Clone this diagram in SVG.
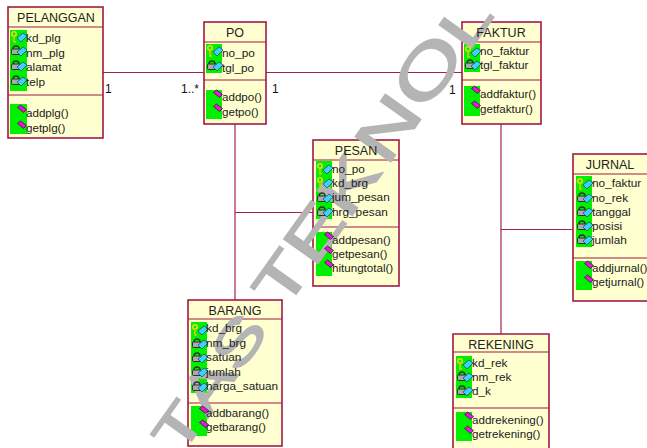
<svg xmlns="http://www.w3.org/2000/svg" width="647" height="448" viewBox="0 0 647 448">
<style>
.box{fill:#ffffcf;stroke:#a31848;stroke-width:1.6}
.div{stroke:#a31848;stroke-width:1.2;fill:none}
.con{stroke:#a32050;stroke-width:1.2;fill:none}
.g{fill:#00f000}
text{font-family:"Liberation Sans",Arial,sans-serif;fill:#222}
.t{font-size:12.5px;text-anchor:middle}
.a{font-size:11.8px}
.m{font-size:11.6px}
.l{font-size:12px;fill:#111}
.w{fill:#b4b4b4;stroke:#b4b4b4;stroke-width:1.6px}
</style>
<defs>
<path id="dia" d="M6 7l6-5 4 3-6 6z" fill="#40d0ff" stroke="#104060" stroke-width=".7"/>
<g id="key"><circle cx="3" cy="3" r="2.2" fill="none" stroke="#e8d820" stroke-width="1.6"/><path d="M3 5v6h2" fill="none" stroke="#d8c810" stroke-width="1.6"/><use href="#dia"/></g>
<g id="lock"><path d="M2 4a3 3 0 0 1 6 0" fill="none" stroke="#333" stroke-width="1.4"/><rect x=".5" y="4" width="9" height="5.5" rx="1" fill="#aaa" stroke="#222" stroke-width=".9"/><use href="#dia"/></g>
<path id="op" d="M5.500 2.500l3-2.500 6 4.500-3 3z" fill="#f010e0" stroke="#302030" stroke-width=".8"/>
</defs>
<g id="connectors">
<path class="con" d="M103 72.500H204M266 72.500H462M235 124V300M235 212.500H313M501 124V334M501 229.500H573"/>
</g>
<g id="pelanggan">
<rect class="box" x="8" y="7" width="95" height="131"/><path class="div" d="M8 27H103M8 95H103"/>
<rect class="g" x="10" y="30" width="17" height="61"/><rect class="g" x="10" y="104" width="17" height="30"/>
</g>
<g id="po">
<rect class="box" x="204" y="22" width="62" height="102"/><path class="div" d="M204 42H266M204 80H266"/>
<rect class="g" x="206" y="44" width="16" height="29"/><rect class="g" x="206" y="90" width="16" height="29"/>
</g>
<g id="faktur">
<rect class="box" x="462" y="22" width="79" height="102"/><path class="div" d="M462 42H541M462 80H541"/>
<rect class="g" x="464" y="44" width="16" height="28"/><rect class="g" x="464" y="86" width="16" height="30"/>
</g>
<g id="pesan">
<rect class="box" x="313" y="140" width="86" height="146"/><path class="div" d="M313 160H399M313 227H399"/>
<rect class="g" x="316" y="161" width="16" height="58"/><rect class="g" x="316" y="232" width="16" height="44"/>
</g>
<g id="jurnal">
<rect class="box" x="573" y="154" width="76" height="147"/><path class="div" d="M573 174H647M573 258H647"/>
<rect class="g" x="576" y="176" width="16" height="71"/><rect class="g" x="576" y="261" width="16" height="29"/>
</g>
<g id="barang">
<rect class="box" x="188" y="300" width="94" height="146"/><path class="div" d="M188 319H282M188 403H282"/>
<rect class="g" x="191" y="322" width="16" height="71"/><rect class="g" x="191" y="406" width="16" height="30"/>
</g>
<g id="rekening">
<path class="box" d="M453 449V334H549V449"/><path class="div" d="M453 352H549M453 408H549"/>
<rect class="g" x="456" y="356" width="16" height="42"/><rect class="g" x="456" y="412" width="16" height="29"/>
</g>
<text id="watermark" class="w" transform="translate(180 457) rotate(-54.500) scale(1.45 1)"><tspan font-size="54">T</tspan><tspan font-size="55">A</tspan><tspan font-size="56">S </tspan><tspan font-size="60">T</tspan><tspan font-size="61">E</tspan><tspan font-size="62">K</tspan><tspan font-size="63" dx="4">N</tspan><tspan font-size="66">O</tspan><tspan font-size="58">L</tspan></text>
<g id="pelanggan-content">
<use href="#key" x="11" y="31"/><use href="#lock" x="11" y="45"/><use href="#lock" x="11" y="60"/><use href="#lock" x="11" y="75"/><use href="#op" x="12" y="105"/><use href="#op" x="12" y="121"/>
<text class="t" x="56" y="22">PELANGGAN</text>
<text class="a" x="26" y="42">kd_plg</text><text class="a" x="26" y="57">nm_plg</text><text class="a" x="26" y="71">alamat</text><text class="a" x="26" y="86">telp</text>
<text class="m" x="26" y="117">addplg()</text><text class="m" x="26" y="132">getplg()</text>
</g>
<g id="po-content">
<use href="#key" x="207" y="45"/><use href="#lock" x="207" y="60"/><use href="#op" x="208" y="90"/><use href="#op" x="208" y="104"/>
<text class="t" x="235" y="37">PO</text>
<text class="a" x="222" y="57">no_po</text><text class="a" x="222" y="72">tgl_po</text>
<text class="m" x="222" y="101">addpo()</text><text class="m" x="222" y="116">getpo()</text>
</g>
<g id="faktur-content">
<use href="#key" x="465" y="46"/><use href="#lock" x="465" y="59"/><use href="#op" x="466" y="86"/><use href="#op" x="466" y="101"/>
<text class="t" x="501" y="37">FAKTUR</text>
<text class="a" x="480" y="55">no_faktur</text><text class="a" x="480" y="69">tgl_faktur</text>
<text class="m" x="480" y="98">addfaktur()</text><text class="m" x="480" y="113">getfaktur()</text>
</g>
<g id="pesan-content">
<use href="#key" x="317" y="163"/><use href="#key" x="317" y="177"/><use href="#lock" x="317" y="192"/><use href="#lock" x="317" y="206"/><use href="#op" x="319" y="232"/><use href="#op" x="319" y="246"/><use href="#op" x="319" y="260"/>
<text class="t" x="356" y="155">PESAN</text>
<text class="a" x="332" y="173">no_po</text><text class="a" x="332" y="187">kd_brg</text><text class="a" x="332" y="201">jum_pesan</text><text class="a" x="332" y="216">hrg_pesan</text>
<text class="m" x="332" y="244">addpesan()</text><text class="m" x="332" y="258">getpesan()</text><text class="m" x="332" y="272">hitungtotal()</text>
</g>
<g id="jurnal-content">
<use href="#key" x="577" y="178"/><use href="#lock" x="577" y="192"/><use href="#lock" x="577" y="206"/><use href="#lock" x="577" y="220"/><use href="#lock" x="577" y="234"/><use href="#op" x="579" y="261"/><use href="#op" x="579" y="275"/>
<text class="t" x="610" y="169">JURNAL</text>
<text class="a" x="592" y="187">no_faktur</text><text class="a" x="592" y="202">no_rek</text><text class="a" x="592" y="216">tanggal</text><text class="a" x="592" y="230">posisi</text><text class="a" x="592" y="244">jumlah</text>
<text class="m" x="592" y="272">addjurnal()</text><text class="m" x="592" y="286">getjurnal()</text>
</g>
<g id="barang-content">
<use href="#key" x="192" y="324"/><use href="#lock" x="192" y="338"/><use href="#lock" x="192" y="352"/><use href="#lock" x="192" y="366"/><use href="#lock" x="192" y="381"/><use href="#op" x="194" y="406"/><use href="#op" x="194" y="420"/>
<text class="t" x="235" y="315">BARANG</text>
<text class="a" x="206" y="332">kd_brg</text><text class="a" x="206" y="347">nm_brg</text><text class="a" x="206" y="361">satuan</text><text class="a" x="206" y="376">jumlah</text><text class="a" x="206" y="390">harga_satuan</text>
<text class="m" x="206" y="417">addbarang()</text><text class="m" x="206" y="431">getbarang()</text>
</g>
<g id="rekening-content">
<use href="#key" x="457" y="358"/><use href="#lock" x="457" y="371"/><use href="#lock" x="457" y="385"/><use href="#op" x="459" y="412"/><use href="#op" x="459" y="426"/>
<text class="t" x="501" y="349">REKENING</text>
<text class="a" x="472" y="367">kd_rek</text><text class="a" x="472" y="381">nm_rek</text><text class="a" x="472" y="395">d_k</text>
<text class="m" x="472" y="424">addrekening()</text><text class="m" x="472" y="438">getrekening()</text>
</g>
<g id="labels">
<text class="l" x="105" y="93">1</text><text class="l" x="181" y="93">1..*</text><text class="l" x="272" y="93">1</text><text class="l" x="449" y="94">1</text>
</g>
</svg>
